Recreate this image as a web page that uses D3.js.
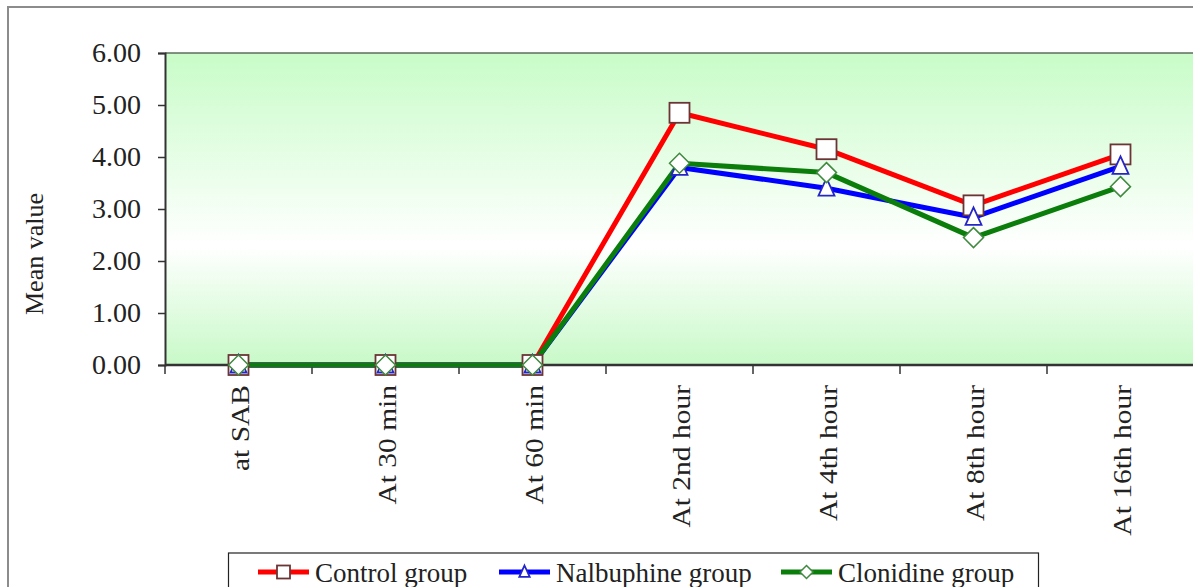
<!DOCTYPE html>
<html><head><meta charset="utf-8">
<script src="https://cdn.jsdelivr.net/npm/d3@7"></script>
<style>body{margin:0;background:#fff}svg{display:block}</style>
</head><body>
<svg id="c" width="1193" height="587"></svg>
<script>
const categories = ["at SAB","At 30 min","At 60 min","At 2nd hour","At 4th hour","At 8th hour","At 16th hour"];
const controlGroup = [0,0,0,4.85,4.15,3.07,4.05];
const nalbuphineGroup = [0,0,0,3.80,3.40,2.84,3.82];
const clonidineGroup = [0,0,0,3.88,3.70,2.45,3.43];
const yTicks = [0,1,2,3,4,5,6];
const seriesNames = ["Control group","Nalbuphine group","Clonidine group"];

const series = [
  {name: seriesNames[0], values: controlGroup, color: "#ff0000", marker: "square", mstroke: "#6b3535"},
  {name: seriesNames[1], values: nalbuphineGroup, color: "#0000ff", marker: "triangle", mstroke: "#2626c8"},
  {name: seriesNames[2], values: clonidineGroup, color: "#0a7d0a", marker: "diamond", mstroke: "#3f8a3f"}
];

const svg = d3.select("#c");
const font = "'Liberation Serif','Times New Roman',serif";
const L = 165, R = 1194, T = 53, B = 365;

// outer border
svg.append("rect").attr("x",8).attr("y",7).attr("width",1200).attr("height",600)
  .attr("fill","#fff").attr("stroke","#8c8c8c").attr("stroke-width",2);

const defs = svg.append("defs");
const g = defs.append("linearGradient").attr("id","bg").attr("x1",0).attr("y1",0).attr("x2",0).attr("y2",1);
g.append("stop").attr("offset","0%").attr("stop-color","#c8fcc8");
g.append("stop").attr("offset","62%").attr("stop-color","#ffffff");
g.append("stop").attr("offset","100%").attr("stop-color","#c8f9c8");

const x = d3.scaleBand().domain(categories).range([L,R]);
const y = d3.scaleLinear().domain([0,6]).range([B,T]);

svg.append("rect").attr("x",L).attr("y",T).attr("width",R-L).attr("height",B-T).attr("fill","url(#bg)");
svg.append("line").attr("x1",L).attr("x2",R).attr("y1",T).attr("y2",T).attr("stroke","#5d6e5d").attr("stroke-width",1.5);

// y axis
const ya = svg.append("g").attr("transform",`translate(${L},0)`)
  .call(d3.axisLeft(y).tickValues(yTicks).tickFormat(d3.format(".2f")).tickSize(7).tickPadding(17));
ya.select(".domain").attr("stroke","#333").attr("stroke-width",2);
ya.selectAll(".tick line").attr("x1",-7).attr("x2",0).attr("stroke","#333").attr("stroke-width",1.5);
ya.selectAll("text").attr("x",-24).attr("font-family",font).attr("font-size",28).attr("fill","#222");

// x axis
const xa = svg.append("g").attr("transform",`translate(0,${B})`)
  .call(d3.axisBottom(x).tickSize(0).tickPadding(0));
xa.select(".domain").remove();
xa.selectAll(".tick text").remove();
const bounds = categories.map(c => x(c)).concat([x(categories[categories.length-1]) + x.bandwidth()]);
xa.selectAll(".bt").data(bounds).enter().append("line")
  .attr("x1",d=>d).attr("x2",d=>d).attr("y1",0).attr("y2",9).attr("stroke","#333").attr("stroke-width",1.5);
xa.append("line").attr("x1",L).attr("x2",R).attr("y1",0).attr("y2",0).attr("stroke","#333").attr("stroke-width",2.5);
xa.selectAll(".xl").data(categories).enter().append("text")
  .attr("transform",d=>`translate(${x(d)+x.bandwidth()/2+10},20) rotate(-90) scale(1,0.88)`)
  .attr("text-anchor","end").attr("font-family",font).attr("font-size",29.5).attr("fill","#222")
  .text(d=>d);

// y label
svg.append("text").attr("transform","translate(43,254) rotate(-90)")
  .attr("text-anchor","middle").attr("font-family",font).attr("font-size",26).attr("fill","#222")
  .text("Mean value");

const line = d3.line().x((d,i)=>x(categories[i])+x.bandwidth()/2).y(d=>y(d));

function marker(sel, type, cx, cy, stroke, s) {
  if (type==="square") {
    sel.append("rect").attr("x",cx-s).attr("y",cy-s).attr("width",2*s).attr("height",2*s)
      .attr("fill","#fff").attr("stroke",stroke).attr("stroke-width",1.8);
  } else if (type==="triangle") {
    sel.append("path").attr("d",`M${cx},${cy-s*1.0}L${cx+s*0.8},${cy+s*0.75}L${cx-s*0.8},${cy+s*0.75}Z`)
      .attr("fill","#fff").attr("stroke",stroke).attr("stroke-width",1.8);
  } else {
    sel.append("path").attr("d",`M${cx},${cy-s}L${cx+s},${cy}L${cx},${cy+s}L${cx-s},${cy}Z`)
      .attr("fill","#fff").attr("stroke",stroke).attr("stroke-width",1.5);
  }
}

series.forEach(s => {
  svg.append("path").datum(s.values).attr("d",line).attr("fill","none")
    .attr("stroke",s.color).attr("stroke-width",5).attr("stroke-linejoin","round");
});
series.forEach(s => {
  const gm = svg.append("g");
  s.values.forEach((v,i) => {
    marker(gm, s.marker, x(categories[i])+x.bandwidth()/2, y(v), s.mstroke, 10);
  });
});

// legend
const lg = svg.append("g");
lg.append("rect").attr("x",228.5).attr("y",553).attr("width",810).attr("height",50)
  .attr("fill","#fff").attr("stroke","#222").attr("stroke-width",1.2);
const lx = [258, 499, 781];
series.forEach((s,i) => {
  const cy = 572;
  lg.append("line").attr("x1",lx[i]).attr("x2",lx[i]+51).attr("y1",cy).attr("y2",cy)
    .attr("stroke",s.color).attr("stroke-width",5);
  marker(lg, s.marker, lx[i]+25.5, cy, s.mstroke, 6.5);
  lg.append("text").attr("x",lx[i]+57).attr("y",cy+10).attr("font-family",font).attr("font-size",27)
    .attr("fill","#222").text(s.name);
});
</script>
</body></html>
